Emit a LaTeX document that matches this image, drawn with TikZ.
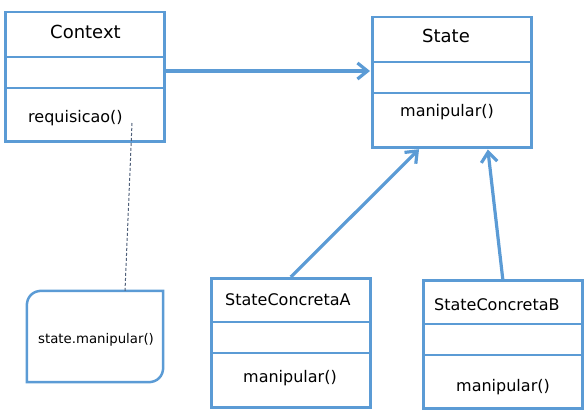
\documentclass[tikz,border=0pt]{standalone}
\usepackage{fontspec}
\setmainfont{DejaVu Sans}
\usetikzlibrary{arrows.meta}

\definecolor{umlblue}{RGB}{91,155,213}
\definecolor{linkgray}{RGB}{80,96,122}

\begin{document}
\begin{tikzpicture}[x=1pt, y=-1pt,
    classbox/.style={draw=umlblue, line width=2.5pt, anchor=north west, minimum width=159pt, inner sep=0pt},
    divider/.style={draw=umlblue, line width=2.5pt},
    member/.style={anchor=base west, inner sep=0pt, font=\fontsize{16}{19}\selectfont},
    classname/.style={member, font=\fontsize{18}{22}\selectfont},
    assoc/.style={draw=umlblue, line width=3.2pt, shorten >=1pt, -{Straight Barb[length=10pt, width=16pt]}},
    link/.style={draw=linkgray, line width=1pt, dash pattern=on 3pt off 2pt}]

    % Fix the page to the size of the reference
    \useasboundingbox (0,0) rectangle (588,412);

    % Class Context
    \node[classbox, minimum height=129pt] (context) at (4,11) {};
    \draw[divider] (4,57) -- (163,57);
    \draw[divider] (4,88) -- (163,88);
    \node[classname] (contextName) at (50,38) {Context};
    \node[member] (contextOp) at (28,122) {requisicao()};

    % Class State
    \node[classbox, minimum height=130pt] (state) at (371,16) {};
    \draw[divider] (371,62) -- (530,62);
    \draw[divider] (371,93) -- (530,93);
    \node[classname] (stateName) at (422,43) {State};
    \node[member] (stateOp) at (400,116) {manipular()};

    % Class StateConcretaA
    \node[classbox, minimum height=129pt] (stA) at (210,277) {};
    \draw[divider] (210,322) -- (369,322);
    \draw[divider] (210,353) -- (369,353);
    \node[member] (stAName) at (225,305) {StateConcretaA};
    \node[member] (stAOp) at (243,382) {manipular()};

    % Class StateConcretaB
    \node[classbox, minimum height=128pt] (stB) at (422,279) {};
    \draw[divider] (422,324) -- (581,324);
    \draw[divider] (422,355) -- (581,355);
    \node[member] (stBName) at (434,310) {StateConcretaB};
    \node[member] (stBOp) at (456,391) {manipular()};

    % Note with two rounded corners
    \node[minimum width=136pt, minimum height=91pt, inner sep=0pt] (note) at (95,336.5) {};
    \draw[divider] (note.north east) -- ([xshift=15pt]note.north west)
        .. controls ([xshift=6pt]note.north west) and ([yshift=-6pt]note.north west) .. ([yshift=-15pt]note.north west)
        -- (note.south west) -- ([xshift=-15pt]note.south east)
        .. controls ([xshift=-6pt]note.south east) and ([yshift=6pt]note.south east) .. ([yshift=15pt]note.south east) -- cycle;
    \node[member, font=\fontsize{13.3}{16}\selectfont] (noteText) at (38,343) {state.manipular()};

    % Association and inheritance arrows
    \coordinate (assocRow) at (0,71);
    \draw[assoc] (context.east |- assocRow) -- (state.west |- assocRow);
    \draw[assoc] (stA.north) -- ([xshift=-32pt]state.south);
    \draw[assoc] (stB.north) -- ([xshift=36pt]state.south);

    % Dashed link from the operation to the note
    \coordinate (reqPoint) at (132,123);
    \draw[link] (reqPoint) -- ([xshift=30pt]note.north);

\end{tikzpicture}
\end{document}
